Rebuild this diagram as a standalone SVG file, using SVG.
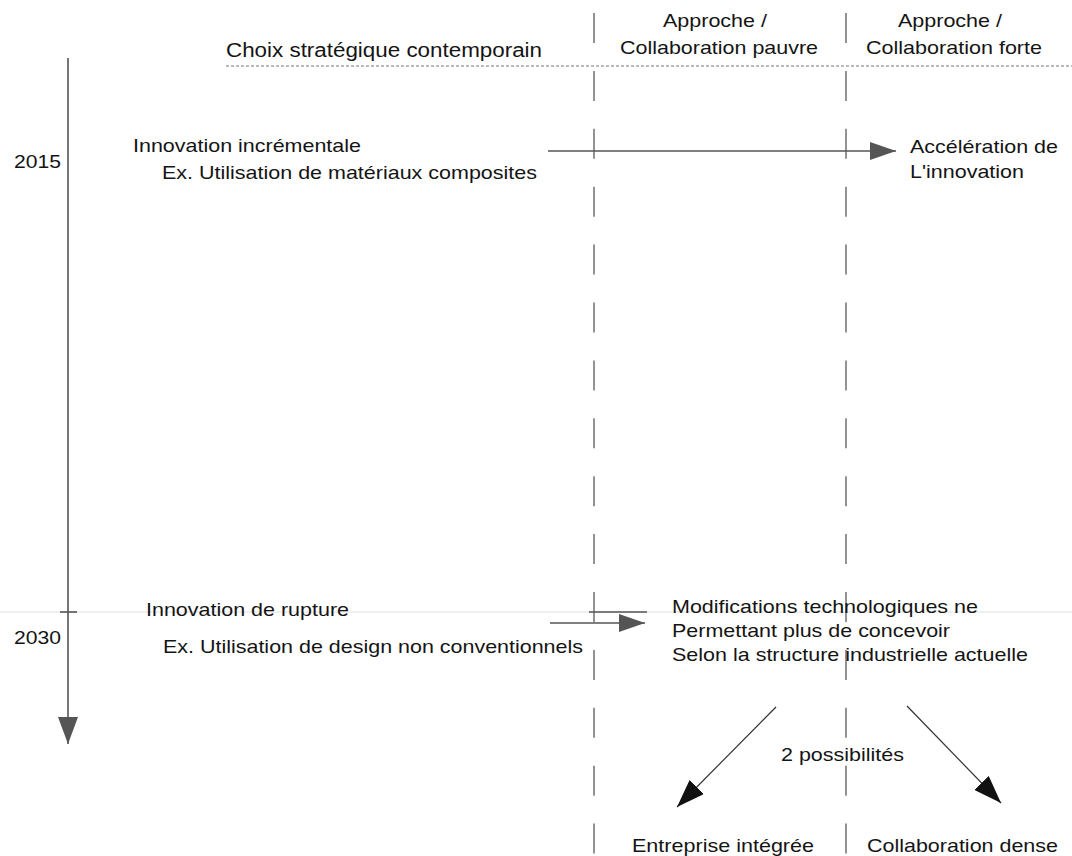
<svg xmlns="http://www.w3.org/2000/svg" width="1072" height="856" viewBox="0 0 1072 856">
  <style>
    text { font-family: "Liberation Sans", Arial, sans-serif; font-size: 19px; fill: #141414; }
    .hdr { font-size: 20px; }
    .axis { stroke: #555; stroke-width: 1.6; fill: none; }
    .sep { stroke: #666; stroke-width: 1.4; stroke-dasharray: 30 27.9; fill: none; }
    .dot { stroke: #777; stroke-width: 1.1; stroke-dasharray: 3 2; fill: none; }
    .flow { stroke: #555; stroke-width: 1.6; fill: none; }
    .branch { stroke: #333; stroke-width: 1.2; fill: none; }
    .faint { stroke: #e2e2e2; stroke-width: 1.2; fill: none; }
  </style>
  <defs>
    <marker id="headGray" markerUnits="userSpaceOnUse" markerWidth="26" markerHeight="18" refX="26" refY="9" orient="auto">
      <path d="M0,0 L26,9 L0,18 z" fill="#555"/>
    </marker>
    <marker id="headAxis" markerUnits="userSpaceOnUse" markerWidth="27" markerHeight="20" refX="27" refY="10" orient="auto">
      <path d="M0,0 L27,10 L0,20 z" fill="#555"/>
    </marker>
    <marker id="headBlack" markerUnits="userSpaceOnUse" markerWidth="28" markerHeight="20" refX="28" refY="10" orient="auto">
      <path d="M0,0 L28,10 L0,20 z" fill="#111"/>
    </marker>
  </defs>

  <rect width="1072" height="856" fill="#fff"/>

  <!-- column separators and header rule -->
  <g id="grid">
    <line class="faint" x1="0" y1="612" x2="1072" y2="612"/>
    <line class="sep" x1="594" y1="13" x2="594" y2="856"/>
    <line class="sep" x1="846" y1="13" x2="846" y2="856"/>
    <line class="dot" x1="226" y1="66" x2="1072" y2="66"/>
  </g>

  <!-- column headers -->
  <g id="header-contemporain">
    <text class="hdr" x="226" y="57" textLength="316" lengthAdjust="spacingAndGlyphs">Choix stratégique contemporain</text>
  </g>
  <g id="header-pauvre">
    <text x="663" y="27" textLength="104" lengthAdjust="spacingAndGlyphs">Approche /</text>
    <text x="620" y="54" textLength="198" lengthAdjust="spacingAndGlyphs">Collaboration pauvre</text>
  </g>
  <g id="header-forte">
    <text x="898" y="27" textLength="104" lengthAdjust="spacingAndGlyphs">Approche /</text>
    <text x="866" y="54" textLength="176" lengthAdjust="spacingAndGlyphs">Collaboration forte</text>
  </g>

  <!-- timeline years -->
  <g id="year-2015">
    <text x="14" y="168" textLength="47" lengthAdjust="spacingAndGlyphs">2015</text>
  </g>
  <g id="year-2030">
    <text x="14" y="644" textLength="47" lengthAdjust="spacingAndGlyphs">2030</text>
  </g>

  <!-- nodes -->
  <g id="innovation-incrementale">
    <text x="133" y="152" textLength="228" lengthAdjust="spacingAndGlyphs">Innovation incrémentale</text>
    <text x="162" y="179" textLength="375" lengthAdjust="spacingAndGlyphs">Ex. Utilisation de matériaux composites</text>
  </g>
  <g id="acceleration">
    <text x="910" y="153" textLength="148" lengthAdjust="spacingAndGlyphs">Accélération de</text>
    <text x="910" y="178" textLength="114" lengthAdjust="spacingAndGlyphs">L'innovation</text>
  </g>
  <g id="innovation-rupture">
    <text x="146" y="616" textLength="203" lengthAdjust="spacingAndGlyphs">Innovation de rupture</text>
    <text x="163" y="653" textLength="420" lengthAdjust="spacingAndGlyphs">Ex. Utilisation de design non conventionnels</text>
  </g>
  <g id="modifications">
    <text x="672" y="613" textLength="306" lengthAdjust="spacingAndGlyphs">Modifications technologiques ne</text>
    <text x="672" y="637" textLength="278" lengthAdjust="spacingAndGlyphs">Permettant plus de concevoir</text>
    <text x="672" y="661" textLength="356" lengthAdjust="spacingAndGlyphs">Selon la structure industrielle actuelle</text>
  </g>
  <g id="possibilites">
    <text x="781" y="761" textLength="123" lengthAdjust="spacingAndGlyphs">2 possibilités</text>
  </g>
  <g id="entreprise-integree">
    <text x="632" y="852" textLength="182" lengthAdjust="spacingAndGlyphs">Entreprise intégrée</text>
  </g>
  <g id="collaboration-dense">
    <text x="867" y="852" textLength="191" lengthAdjust="spacingAndGlyphs">Collaboration dense</text>
  </g>

  <!-- connectors -->
  <g id="connectors">
    <line class="axis" x1="68" y1="58" x2="68" y2="744" marker-end="url(#headAxis)"/>
    <line class="axis" x1="60" y1="612" x2="77" y2="612"/>
    <line class="flow" x1="589" y1="612" x2="647" y2="612"/>
    <line class="flow" x1="548" y1="151" x2="896" y2="151" marker-end="url(#headGray)"/>
    <line class="flow" x1="550" y1="623" x2="645" y2="623" marker-end="url(#headGray)"/>
    <line class="branch" x1="776" y1="707" x2="677" y2="807" marker-end="url(#headBlack)"/>
    <line class="branch" x1="907" y1="706" x2="1001" y2="803" marker-end="url(#headBlack)"/>
  </g>
</svg>
